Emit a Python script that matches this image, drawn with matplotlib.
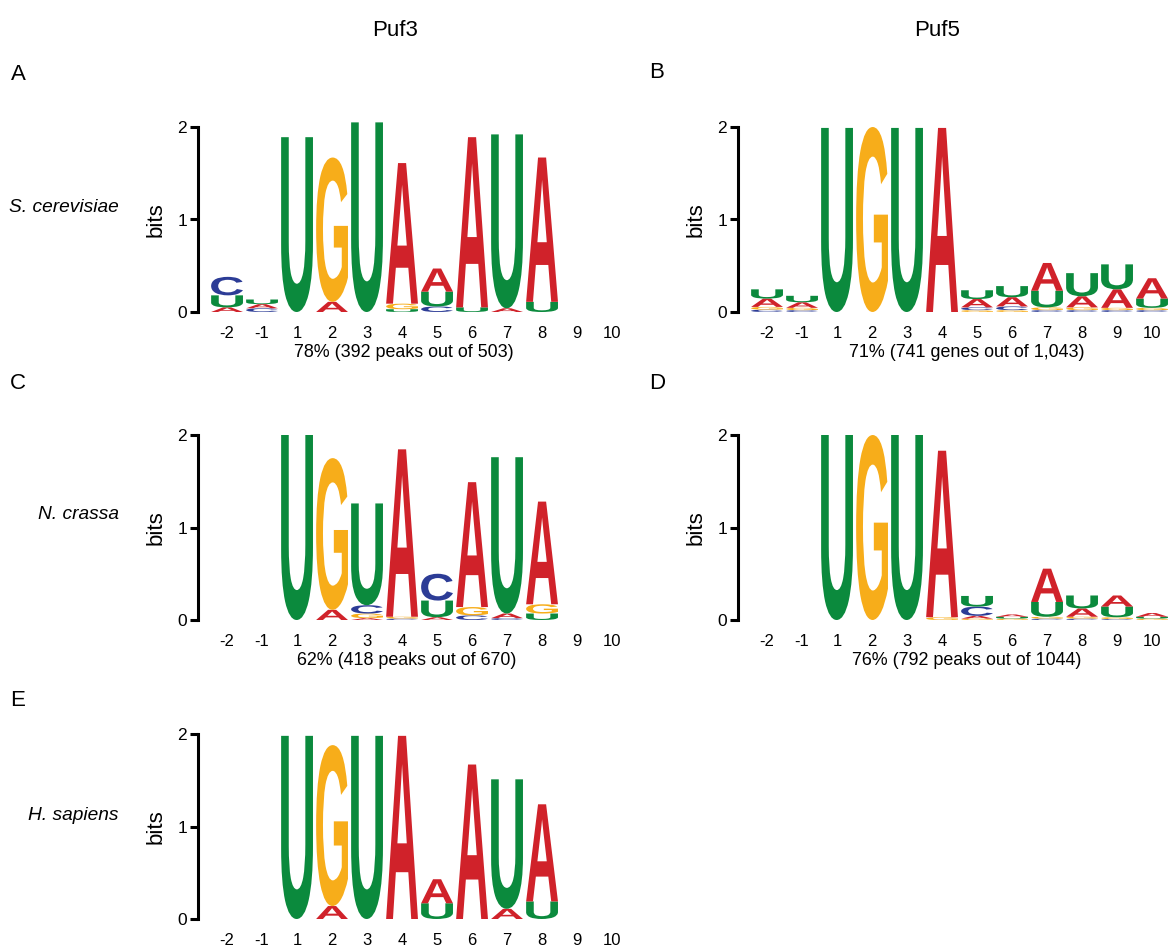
import matplotlib
matplotlib.use('Agg')
import matplotlib.pyplot as plt
import numpy as np
from matplotlib import font_manager
from matplotlib.font_manager import FontProperties
from matplotlib.textpath import TextPath
from matplotlib.patches import PathPatch
from matplotlib.transforms import Affine2D

# 字体: 优先用窄体
try:
    font_manager.findfont(FontProperties(family='Liberation Sans Narrow'), fallback_to_default=False)
    FAMILY = 'Liberation Sans Narrow'
    WSCALE = 1.0
except ValueError:
    FAMILY = 'Liberation Sans'
    WSCALE = 0.86
plt.rcParams['font.family'] = [FAMILY, 'DejaVu Sans']

# 数据: 每个位置上各碱基的高度 (bits)
positions = ['-2', '-1', '1', '2', '3', '4', '5', '6', '7', '8', '9', '10']
bases = ['A', 'C', 'G', 'U']

# A: S. cerevisiae Puf3
sc_puf3_A = [0.05, 0.045, 0, 0.11, 0, 1.52, 0.25, 1.84, 0.04, 1.56, 0, 0]
sc_puf3_C = [0.20, 0.04, 0, 0, 0, 0, 0.06, 0, 0, 0, 0, 0]
sc_puf3_G = [0, 0, 0, 1.56, 0, 0.06, 0, 0, 0, 0, 0, 0]
sc_puf3_U = [0.13, 0.05, 1.89, 0, 2.05, 0.03, 0.16, 0.05, 1.88, 0.11, 0, 0]

# B: S. cerevisiae Puf5
sc_puf5_A = [0.09, 0.06, 0, 0, 0, 1.99, 0.09, 0.10, 0.30, 0.12, 0.20, 0.22]
sc_puf5_C = [0.025, 0.02, 0, 0, 0, 0, 0.03, 0.04, 0.02, 0.02, 0.02, 0.02]
sc_puf5_G = [0.03, 0.025, 0, 2.0, 0, 0, 0.02, 0.02, 0.03, 0.03, 0.025, 0.025]
sc_puf5_U = [0.10, 0.07, 1.99, 0, 1.99, 0, 0.095, 0.12, 0.18, 0.25, 0.27, 0.10]

# C: N. crassa Puf3
nc_puf3_A = [0, 0, 0, 0.11, 0.02, 1.81, 0.03, 1.35, 0.05, 1.11, 0, 0]
nc_puf3_C = [0, 0, 0, 0, 0.09, 0.015, 0.29, 0.05, 0.02, 0, 0, 0]
nc_puf3_G = [0, 0, 0, 1.64, 0.05, 0.02, 0, 0.09, 0, 0.10, 0, 0]
nc_puf3_U = [0, 0, 2.0, 0, 1.10, 0, 0.18, 0, 1.69, 0.07, 0, 0]

# D: N. crassa Puf5
nc_puf5_A = [0, 0, 0, 0, 0, 1.80, 0.03, 0.025, 0.36, 0.09, 0.12, 0.04]
nc_puf5_C = [0, 0, 0, 0, 0, 0, 0.10, 0, 0.015, 0.015, 0.01, 0]
nc_puf5_G = [0, 0, 0, 2.0, 0, 0.03, 0.015, 0.015, 0.02, 0.02, 0.02, 0.015]
nc_puf5_U = [0, 0, 2.0, 0, 2.0, 0, 0.115, 0.02, 0.16, 0.14, 0.115, 0.02]

# E: H. sapiens Puf3
hs_puf3_A = [0, 0, 0, 0.14, 0, 1.98, 0.26, 1.67, 0.11, 1.05, 0, 0]
hs_puf3_C = [0, 0, 0, 0, 0, 0, 0, 0, 0, 0, 0, 0]
hs_puf3_G = [0, 0, 0, 1.74, 0, 0, 0, 0, 0, 0, 0, 0]
hs_puf3_U = [0, 0, 1.98, 0, 1.98, 0, 0.17, 0, 1.40, 0.19, 0, 0]

captions = {
    'A': '78% (392 peaks out of 503)',
    'B': '71% (741 genes out of 1,043)',
    'C': '62% (418 peaks out of 670)',
    'D': '76% (792 peaks out of 1044)',
}

colors = {'A': '#d0222a', 'C': '#2c3c96', 'G': '#f7ad1a', 'U': '#0b8a3d'}

W, H = 1169, 946
fig = plt.figure(figsize=(W / 100, H / 100), dpi=100)

# 字母形状
glyph_fp = FontProperties(family='Liberation Sans', weight='bold')
glyphs = {}
for b in bases:
    p = TextPath((0, 0), b, size=1, prop=glyph_fp)
    glyphs[b] = (p, p.get_extents())


def draw_letter(ax, ch, x, y0, h, w=0.91):
    p, ext = glyphs[ch]
    t = (Affine2D().translate(-ext.x0, -ext.y0)
         .scale(w / ext.width, h / ext.height)
         .translate(x - w / 2, y0))
    ax.add_patch(PathPatch(t.transform_path(p), fc=colors[ch], ec='none',
                           lw=0, clip_on=False))


def logo(left_px, y0_px, heights, caption=None, cap_x=5.1):
    xlim = (-0.83, 11.5)
    width_px = (xlim[1] - xlim[0]) * 35
    ax = fig.add_axes([left_px / W, 1 - y0_px / H, width_px / W, 185 / H])
    ax.set_xlim(*xlim)
    ax.set_ylim(0, 2)
    for i in range(len(positions)):
        col = sorted([(heights[b][i], b) for b in bases if heights[b][i] > 0])
        y = 0
        for h, b in col:
            draw_letter(ax, b, i, y, h)
            y += h
    for s in ['top', 'right', 'bottom']:
        ax.spines[s].set_visible(False)
    ax.spines['left'].set_linewidth(2.2)
    ax.set_yticks([0, 1, 2])
    ax.set_xticks(range(len(positions)))
    ax.set_xticklabels(positions)
    ax.tick_params(axis='y', length=6, width=2.2, pad=2, labelsize=12.5)
    ax.tick_params(axis='x', length=0, pad=10, labelsize=12)
    ax.set_ylabel('bits', fontsize=16)
    ax.yaxis.set_label_coords(-31 / width_px, 0.5)
    if caption:
        ax.annotate(caption, xy=(cap_x, 0), xycoords=('data', 'axes fraction'),
                    xytext=(0, -29), textcoords='offset points',
                    ha='center', va='center', fontsize=15 * WSCALE)
    return ax


def panel(letter_arrays):
    return dict(zip(bases, letter_arrays))


logo(198, 312, panel([sc_puf3_A, sc_puf3_C, sc_puf3_G, sc_puf3_U]), captions['A'], 5.06)
logo(738, 312, panel([sc_puf5_A, sc_puf5_C, sc_puf5_G, sc_puf5_U]), captions['B'], 5.7)
logo(198, 620, panel([nc_puf3_A, nc_puf3_C, nc_puf3_G, nc_puf3_U]), captions['C'], 5.14)
logo(738, 620, panel([nc_puf5_A, nc_puf5_C, nc_puf5_G, nc_puf5_U]), captions['D'], 5.69)
logo(198, 919, panel([hs_puf3_A, hs_puf3_C, hs_puf3_G, hs_puf3_U]))

# 标题、面板字母、物种名
fig.text(395 / W, 1 - 30 / H, 'Puf3', ha='center', va='center', fontsize=16)
fig.text(937 / W, 1 - 30 / H, 'Puf5', ha='center', va='center', fontsize=16)
for lab, (x, y) in {'A': (18, 75), 'B': (657, 72), 'C': (18, 383),
                    'D': (657, 383), 'E': (18, 700)}.items():
    fig.text(x / W, 1 - y / H, lab, ha='center', va='center', fontsize=16)
for name, y in [('S. cerevisiae', 207), ('N. crassa', 514), ('H. sapiens', 815)]:
    fig.text(119 / W, 1 - y / H, name, ha='right', va='center',
             fontsize=16 * WSCALE, style='italic')

plt.savefig('out.png', dpi=100)
